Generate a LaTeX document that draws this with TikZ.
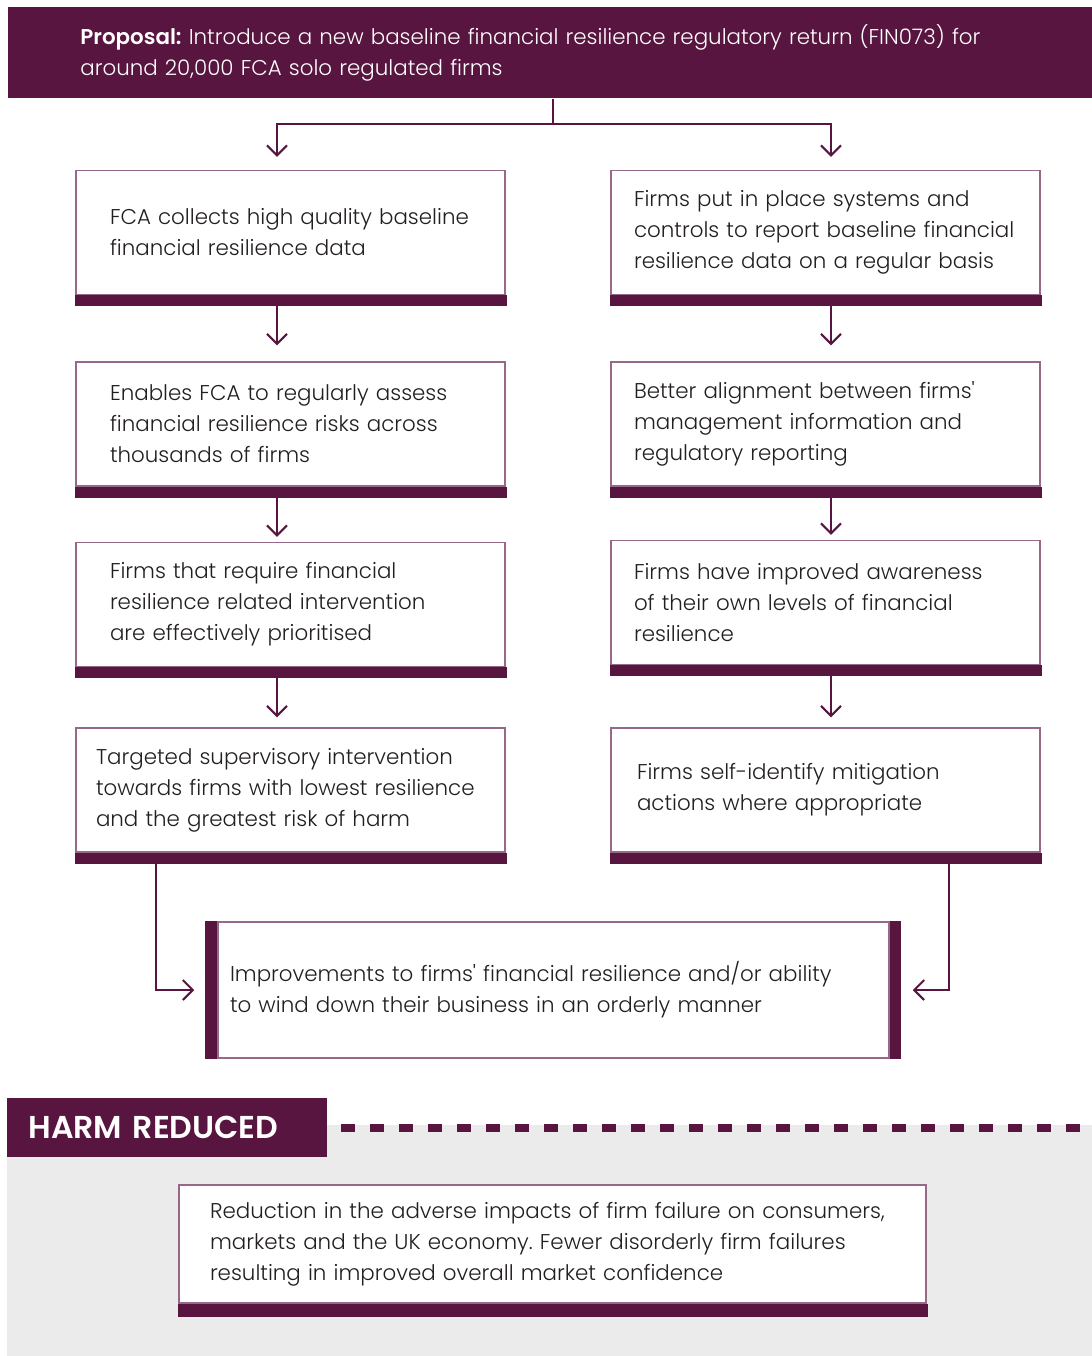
\documentclass[tikz,border=0pt]{standalone}
\usepackage{fontspec}
\setmainfont{Poppins}[UprightFont=* Light, BoldFont=* SemiBold]
\usetikzlibrary{arrows.meta,positioning,calc}
\frenchspacing

\definecolor{fcapurple}{RGB}{87,21,63}
\definecolor{fcaframe}{RGB}{152,104,137}
\definecolor{fcagrey}{RGB}{235,235,235}
\definecolor{fcatext}{RGB}{35,31,32}

\begin{document}
\begin{tikzpicture}[
  x=0.5pt, y=-0.5pt,
  every node/.style={font=\fontsize{10.7}{15.5}\selectfont, text=fcatext},
  header/.style={fill=fcapurple, text=white, align=left, anchor=north west, text width=470pt, inner xsep=36pt, minimum height=45.5pt},
  lbox/.style={draw=fcaframe, line width=0.75pt, fill=white, align=left, text width=180.5pt, inner xsep=17pt, minimum height=62pt},
  rbox/.style={lbox, text width=191.5pt, inner xsep=11.5pt},
  outcome/.style={draw=fcaframe, line width=0.75pt, fill=white, align=left, text width=323.5pt, inner xsep=6pt, minimum height=68pt},
  harm/.style={fill=fcapurple, text=white, font=\fontsize{15.8}{18}\selectfont\bfseries, align=left, anchor=west, text width=139pt, inner xsep=10.5pt, minimum height=29.5pt},
  arrow/.style={-{Straight Barb[length=5pt,width=10pt]}, line width=1pt, draw=fcapurple},
  bar/.style={fill=fcapurple},
  dashrule/.style={draw=fcapurple, line width=4pt, dash pattern=on 7pt off 7.5pt}
]
\useasboundingbox (0,0) rectangle (1092,1356);

% Proposal
\node[header] (proposal) at (8,7) {\textbf{Proposal:} Introduce a new baseline financial resilience regulatory return (FIN073) for\\around 20,000 FCA solo regulated firms};

% Left column: FCA side
\node[lbox] (collect) at (290.5,232.5) {FCA collects high quality baseline\\financial resilience data};
\node[lbox, below=33pt of collect] (assess) {Enables FCA to regularly assess\\financial resilience risks across\\thousands of firms};
\node[lbox, below=27.5pt of assess] (prioritise) {Firms that require financial\\resilience related intervention\\are effectively prioritised};
\node[lbox, below=30pt of prioritise, text width=194.5pt, inner xsep=10pt] (target) {Targeted supervisory intervention\\towards firms with lowest resilience\\and the greatest risk of harm};

% Right column: firms side
\node[rbox] (systems) at (825.5,232.5) {Firms put in place systems and\\controls to report baseline financial\\resilience data on a regular basis};
\node[rbox, below=33pt of systems] (alignment) {Better alignment between firms\textquotesingle\\management information and\\regulatory reporting};
\node[rbox, below=26.5pt of alignment] (aware) {Firms have improved awareness\\of their own levels of financial\\resilience};
\node[rbox, below=31pt of aware, text width=188.5pt, inner xsep=13pt] (selfid) {Firms self-identify mitigation\\actions where appropriate};

% Bottom bars
\foreach \n in {collect,assess,prioritise,target,systems,alignment,aware,selfid}
  \fill[bar] ([xshift=-0.375pt]\n.south west) rectangle ([xshift=0.375pt,yshift=-5.5pt]\n.south east);

% Combined outcome
\node[outcome] (improve) at (553.5,990) {Improvements to firms\textquotesingle\ financial resilience and/or ability\\to wind down their business in an orderly manner};
\fill[bar] (improve.north west) rectangle ([xshift=-6pt]improve.south west);
\fill[bar] (improve.north east) rectangle ([xshift=5.5pt]improve.south east);

% Harm reduced
\coordinate (rightedge) at (1092,0);
\fill[fcagrey] (7,1125) rectangle (1092,1356);
\node[harm] (harm) at (7,1127.5) {HARM REDUCED};
\draw[dashrule] ([xshift=6.5pt]harm.east) -- (harm.east -| rightedge);
\node[lbox, text width=342.5pt, inner xsep=15.5pt, minimum height=59pt] (reduce) at (552.5,1244) {Reduction in the adverse impacts of firm failure on consumers,\\markets and the UK economy. Fewer disorderly firm failures\\resulting in improved overall market confidence};
\fill[bar] ([xshift=-0.375pt]reduce.south west) rectangle ([xshift=0.375pt,yshift=-6.5pt]reduce.south east);

% Split from proposal
\draw[arrow, shorten >=6.5pt] ([xshift=1.5pt]proposal.south) -- ++(0pt,-12.5pt) -| ([xshift=-6.75pt]collect.north);
\draw[arrow, shorten >=6.5pt] ([xshift=1.5pt]proposal.south) -- ++(0pt,-12.5pt) -| ([xshift=2.75pt]systems.north);

% Flow arrows - left
\draw[arrow, shorten >=8pt] ([xshift=-6.75pt,yshift=-5.5pt]collect.south) -- ([xshift=-6.75pt]assess.north);
\draw[arrow, shorten >=2.5pt] ([xshift=-6.75pt,yshift=-5.5pt]assess.south) -- ([xshift=-6.75pt]prioritise.north);
\draw[arrow, shorten >=5pt] ([xshift=-6.75pt,yshift=-5.5pt]prioritise.south) -- ([xshift=-6.75pt]target.north);

% Flow arrows - right
\draw[arrow, shorten >=8pt] ([xshift=2.75pt,yshift=-5.5pt]systems.south) -- ([xshift=2.75pt]alignment.north);
\draw[arrow, shorten >=2.5pt] ([xshift=2.75pt,yshift=-5.5pt]alignment.south) -- ([xshift=2.75pt]aware.north);
\draw[arrow, shorten >=5pt] ([xshift=2.75pt,yshift=-5.5pt]aware.south) -- ([xshift=2.75pt]selfid.north);

% Into the outcome
\draw[arrow, shorten >=11.5pt] ([xshift=-67.25pt,yshift=-5.5pt]target.south) |- (improve.west);
\draw[arrow, shorten >=11.5pt] ([xshift=61.75pt,yshift=-5.5pt]selfid.south) |- (improve.east);

\end{tikzpicture}
\end{document}
